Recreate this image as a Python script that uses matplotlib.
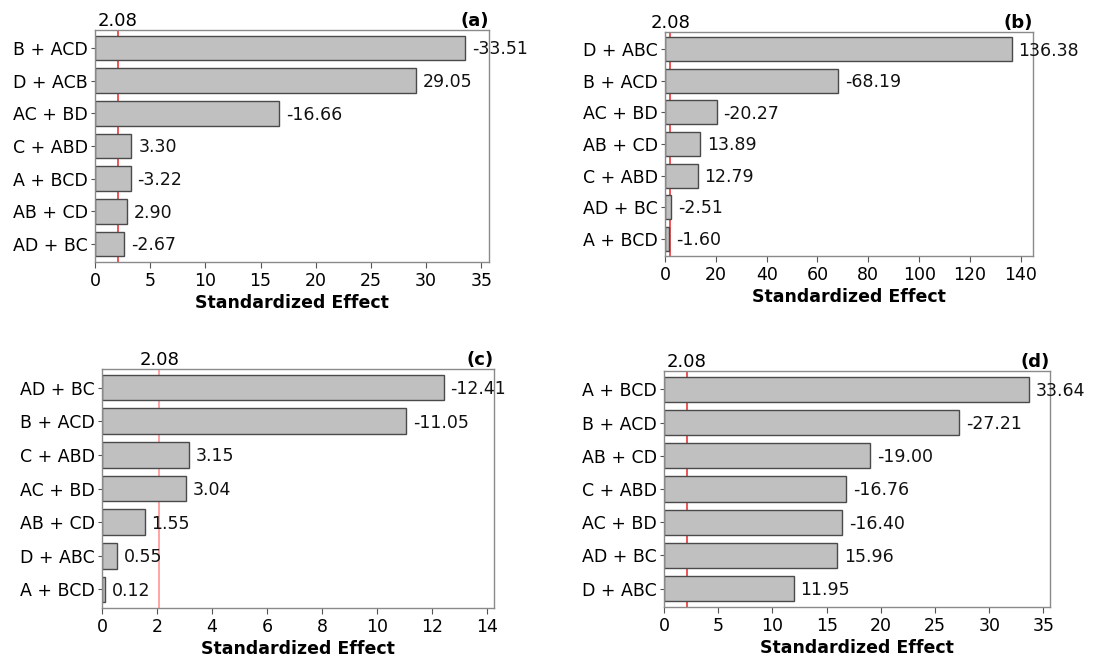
import matplotlib.pyplot as plt

# Pareto charts of standardized effects, alpha = 0.05 reference line
t_crit = 2.08

terms_a = ["B + ACD", "D + ACB", "AC + BD", "C + ABD", "A + BCD", "AB + CD", "AD + BC"]
effects_a = [-33.51, 29.05, -16.66, 3.30, -3.22, 2.90, -2.67]

terms_b = ["D + ABC", "B + ACD", "AC + BD", "AB + CD", "C + ABD", "AD + BC", "A + BCD"]
effects_b = [136.38, -68.19, -20.27, 13.89, 12.79, -2.51, -1.60]

terms_c = ["AD + BC", "B + ACD", "C + ABD", "AC + BD", "AB + CD", "D + ABC", "A + BCD"]
effects_c = [-12.41, -11.05, 3.15, 3.04, 1.55, 0.55, 0.12]

terms_d = ["A + BCD", "B + ACD", "AB + CD", "C + ABD", "AC + BD", "AD + BC", "D + ABC"]
effects_d = [33.64, -27.21, -19.00, -16.76, -16.40, 15.96, 11.95]

panels = [
    # (terms, effects, label, xlim, xticks, line colour, axes rect in figure fraction)
    (terms_a, effects_a, "(a)", 35.7, range(0, 36, 5), "#e8262a", [95/1104, 1-262/664, 394/1104, 232/664]),
    (terms_b, effects_b, "(b)", 144.8, range(0, 141, 20), "#e8262a", [665/1104, 1-256/664, 368/1104, 224/664]),
    (terms_c, effects_c, "(c)", 14.24, range(0, 15, 2), "#ff8a8a", [102/1104, 1-608/664, 392/1104, 239/664]),
    (terms_d, effects_d, "(d)", 35.6, range(0, 36, 5), "#e8262a", [664/1104, 1-607/664, 386/1104, 236/664]),
]

plt.rcParams["font.family"] = "DejaVu Sans"
fig = plt.figure(figsize=(11.04, 6.64), dpi=100)

for terms, effects, tag, xmax, xticks, lc, rect in panels:
    ax = fig.add_axes(rect)
    n = len(terms)
    ypos = list(range(n - 1, -1, -1))
    sizes = [abs(e) for e in effects]

    ax.axvline(t_crit, color=lc, lw=1.1, zorder=1)
    ax.barh(ypos, sizes, height=0.76, color="#c0c0c0", edgecolor="#4a4a4a",
            linewidth=1.0, zorder=2)
    for y, s, e in zip(ypos, sizes, effects):
        ax.annotate(f"{e:.2f}", (s, y), xytext=(5, -1), textcoords="offset points",
                    va="center", ha="left", fontsize=12.5, color="#111111", zorder=3)

    ax.set_xlim(0, xmax)
    ax.set_ylim(-0.55, n - 0.45)
    ax.set_yticks(ypos)
    ax.set_yticklabels(terms, fontsize=12.5)
    ax.set_xticks(list(xticks))
    ax.tick_params(axis="x", labelsize=12.5, length=4, color="#555555", pad=3)
    ax.tick_params(axis="y", length=3, color="#555555", pad=2)
    for sp in ax.spines.values():
        sp.set_color("#8a8a8a")
        sp.set_linewidth(1.0)
    ax.set_xlabel("Standardized Effect", fontsize=12.5, fontweight="bold", labelpad=3)

    # critical value shown above the plot area
    ax.text(t_crit, 1.0, f"{t_crit:.2f}", transform=ax.get_xaxis_transform(),
            ha="center", va="bottom", fontsize=13)
    ax.text(1.0, 1.0, tag, transform=ax.transAxes, ha="right", va="bottom",
            fontsize=13, fontweight="bold")

fig.savefig("out.png", dpi=100)
